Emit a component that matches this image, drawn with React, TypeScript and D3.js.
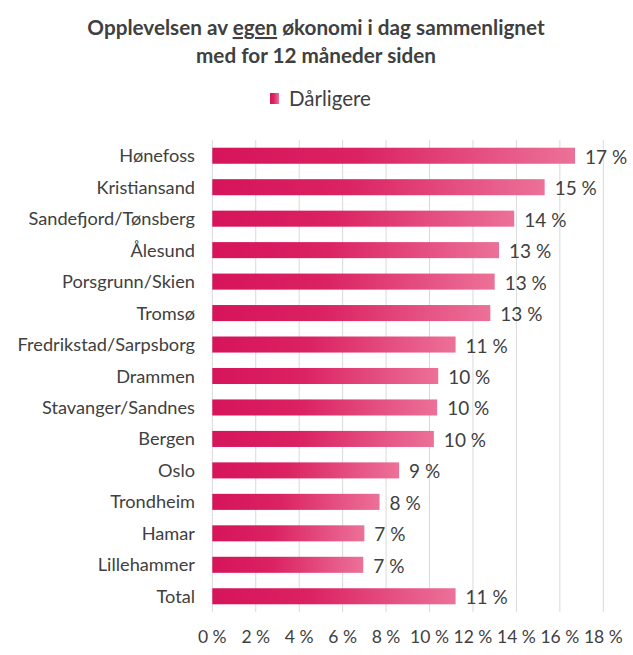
import React from "react";
import * as d3 from "d3";

const categories = [
  "Hønefoss",
  "Kristiansand",
  "Sandefjord/Tønsberg",
  "Ålesund",
  "Porsgrunn/Skien",
  "Tromsø",
  "Fredrikstad/Sarpsborg",
  "Drammen",
  "Stavanger/Sandnes",
  "Bergen",
  "Oslo",
  "Trondheim",
  "Hamar",
  "Lillehammer",
  "Total",
];
const values = [16.7, 15.3, 13.9, 13.2, 13.0, 12.8, 11.2, 10.4, 10.35, 10.2, 8.6, 7.7, 7.0, 6.95, 11.2];
const tickValues = [0, 2, 4, 6, 8, 10, 12, 14, 16, 18];
const seriesName = "Dårligere";

const W = 633;
const H = 655;
const FONT = "Lato, 'Open Sans', sans-serif";
const TEXT = "#404040";

export default function App() {
  const x = d3.scaleLinear().domain([0, 18]).range([212.3, 603.3]);
  const y = d3.scaleBand<string>().domain(categories).range([140, 612]).paddingInner(0.49).paddingOuter(0.245);
  return (
    <svg width={W} height={H} style={{ position: "absolute", left: 0, top: 0, background: "#fff" }}>
      <defs>
        <linearGradient id="barGrad" x1="0" x2="1" y1="0" y2="0">
          <stop offset="0%" stopColor="#d6145a" />
          <stop offset="40%" stopColor="#db2262" />
          <stop offset="100%" stopColor="#ec7199" />
        </linearGradient>
      </defs>
      <text x={316} y={35} textAnchor="middle" fontFamily={FONT} fontWeight="bold" fontSize={20.7} fill={TEXT}>
        Opplevelsen av <tspan textDecoration="underline">egen</tspan> økonomi i dag sammenlignet
      </text>
      <text x={316} y={63} textAnchor="middle" fontFamily={FONT} fontWeight="bold" fontSize={20.7} fill={TEXT}>
        med for 12 måneder siden
      </text>
      <rect x={270} y={93} width={9} height={11} fill="url(#barGrad)" />
      <text x={289} y={106} fontFamily={FONT} fontSize={20.5} fill={TEXT}>
        {seriesName}
      </text>
      {tickValues.map((t) => (
        <g key={t}>
          <line x1={x(t)} x2={x(t)} y1={140} y2={612} stroke="#d9d9d9" strokeWidth={1} />
          <text x={x(t)} y={643} textAnchor="middle" fontFamily={FONT} fontSize={17.5} fill={TEXT}>
            {t} %
          </text>
        </g>
      ))}
      {categories.map((c, i) => {
        const yy = y(c)!;
        const bw = y.bandwidth();
        return (
          <g key={c}>
            <rect x={x(0)} y={yy} width={x(values[i]) - x(0)} height={bw} fill="url(#barGrad)" />
            <text x={195} y={yy + bw / 2} dy="0.36em" textAnchor="end" fontFamily={FONT} fontSize={18.2} fill={TEXT}>
              {c}
            </text>
            <text x={x(values[i]) + 10} y={yy + bw / 2} dy="0.42em" fontFamily={FONT} fontSize={19} fill={TEXT}>
              {Math.round(values[i])} %
            </text>
          </g>
        );
      })}
    </svg>
  );
}
